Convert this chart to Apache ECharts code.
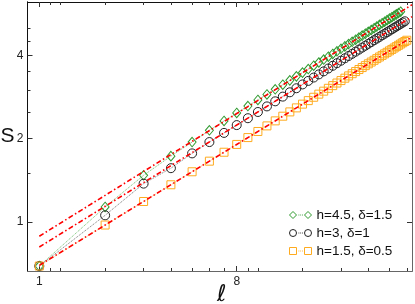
<!DOCTYPE html>
<html><head><meta charset="utf-8">
<script src="https://cdn.jsdelivr.net/npm/echarts@6/dist/echarts.min.js"></script>
<style>html,body{margin:0;padding:0;background:#fff}#c{width:415px;height:304px}</style>
</head><body><div id="c"></div>
<script>
// subsystem sizes
const ell = [1,2,3,4,5,6,7,8,9,10,11,12,13,14,15,16,17,18,19,20,21,22,23,24,25,26,27,28,29,30,31,32,33,34,35,36,37,38,39,40,41,42,43,44,45,46,47,48];
// h=4.5, delta=1.5
const sGreen = [0.693,1.133,1.475,1.730,1.945,2.145,2.318,2.478,2.625,2.762,2.892,3.016,3.136,3.250,3.360,3.467,3.571,3.672,3.771,3.866,3.959,4.051,4.140,4.228,4.313,4.397,4.479,4.560,4.639,4.717,4.794,4.869,4.943,5.016,5.088,5.159,5.229,5.298,5.366,5.433,5.500,5.565,5.630,5.693,5.756];
// h=3, delta=1
const sBlack = [0.693,1.057,1.376,1.565,1.770,1.945,2.099,2.240,2.372,2.498,2.617,2.730,2.839,2.943,3.044,3.142,3.236,3.327,3.416,3.503,3.587,3.670,3.750,3.829,3.906,3.981,4.055,4.128,4.199,4.270,4.338,4.406,4.473,4.539,4.603,4.667,4.730,4.792,4.853,4.913,4.973,5.032,5.090,5.147,5.204,5.260,5.315];
// h=1.5, delta=0.5
const sOrange = [0.693,0.975,1.186,1.363,1.519,1.659,1.787,1.907,2.019,2.124,2.225,2.320,2.412,2.500,2.585,2.667,2.746,2.824,2.898,2.971,3.042,3.111,3.179,3.245,3.310,3.373,3.436,3.497,3.557,3.616,3.674,3.730,3.786,3.841,3.895,3.949,4.001,4.053,4.105,4.155,4.205,4.255,4.303,4.352,4.399,4.446,4.492,4.539];
// fitted power laws (dash-dot), endpoints
const fitEll = [1, 50.7];
const fitGreen = [0.888, 6.10];
const fitBlack = [0.812, 5.52];
const fitOrange = [0.697, 4.66];
// ticks
const xMajorTicks = [1, 8];
const xMinorTicks = [1.125, 1.25, 2, 3, 4, 5, 6, 7, 9, 10, 16, 24, 32, 40, 48];
const yMajorTicks = [1, 2, 4];
const yMinorTicks = [1.5, 2.5, 3, 3.5, 4.5, 5];
const legendNames = ['h=4.5, δ=1.5', 'h=3, δ=1', 'h=1.5, δ=0.5'];

const X_MIN = 0.883, X_MAX = 50.7, Y_MIN = 0.665, Y_MAX = 6.24;
const FONT = 'Liberation Sans, Arial, Helvetica, sans-serif';

function xAx(pos, ticks, len, labels, lineColor, extra) {
  return Object.assign({
    type: 'log', logBase: 8, min: X_MIN, max: X_MAX, position: pos,
    axisLine: { show: true, lineStyle: { color: lineColor, width: 1 } },
    axisTick: { show: true, inside: true, length: len, customValues: ticks, lineStyle: { color: '#333', width: 1 } },
    axisLabel: labels ? { show: true, customValues: labels, color: '#222', fontSize: 12, fontFamily: FONT, margin: 5 } : { show: false },
    splitLine: { show: false }, minorTick: { show: false }
  }, extra || {});
}
function yAx(pos, ticks, len, labels, lineColor, extra) {
  return Object.assign({
    type: 'log', logBase: 2, min: Y_MIN, max: Y_MAX, position: pos,
    axisLine: { show: true, lineStyle: { color: lineColor, width: 1 } },
    axisTick: { show: true, inside: true, length: len, customValues: ticks, lineStyle: { color: '#333', width: 1 } },
    axisLabel: labels ? { show: true, customValues: labels, color: '#222', fontSize: 12, fontFamily: FONT, margin: 4 } : { show: false },
    splitLine: { show: false }, minorTick: { show: false }
  }, extra || {});
}

const pair = (xs, ys) => ys.map((y, i) => [xs[i], y]);

const iconDiamond = 'path://M0 3.5L3.5 0L7 3.5L3.5 7Z M15 3.5L18.5 0L22 3.5L18.5 7Z M9 3.5L9.8 3.5 M10.8 3.5L11.6 3.5 M12.6 3.5L13.4 3.5';
const iconCircle = 'path://M0 3.5A3.5 3.5 0 1 0 7 3.5A3.5 3.5 0 1 0 0 3.5Z M15 3.5A3.5 3.5 0 1 0 22 3.5A3.5 3.5 0 1 0 15 3.5Z M9 3.5L9.8 3.5 M10.8 3.5L11.6 3.5 M12.6 3.5L13.4 3.5';
const iconSquare = 'path://M0 0L7 0L7 7L0 7Z M15 0L22 0L22 7L15 7Z M9 3.5L9.8 3.5 M10.8 3.5L11.6 3.5 M12.6 3.5L13.4 3.5';

const GREEN = '#2f9a2f', BLACK = '#222222', ORANGE = '#ffab1f', RED = '#ff0000';

const fitStyle = { color: RED, width: 1.6, type: [5, 2.5, 1.5, 2.5] };

const option = {
  animation: false,
  backgroundColor: '#fff',
  grid: { left: 27.5, right: 3, top: 2, bottom: 33, containLabel: false, outerBoundsMode: 'none' },
  xAxis: [
    xAx('bottom', xMajorTicks, 5, xMajorTicks, '#666', {
      name: 'ℓ', nameLocation: 'middle', nameGap: 13, nameMoveOverlap: false,
      nameTextStyle: { fontSize: 23, color: '#111', fontFamily: 'DejaVu Sans, sans-serif', padding: [0, 0, 0, 4] }
    }),
    xAx('bottom', xMinorTicks, 3, null, '#666'),
    xAx('top', xMajorTicks, 5, null, '#111'),
    xAx('top', xMinorTicks, 3, null, '#111')
  ],
  yAxis: [
    yAx('left', yMajorTicks, 5, yMajorTicks, '#111', {
      name: 'S', nameLocation: 'middle', nameGap: 13, nameRotate: 0, nameMoveOverlap: false,
      nameTextStyle: { fontSize: 21, color: '#111', fontFamily: FONT }
    }),
    yAx('left', yMinorTicks, 3, null, '#111'),
    yAx('right', yMajorTicks, 5, null, '#666'),
    yAx('right', yMinorTicks, 3, null, '#666')
  ],
  legend: {
    orient: 'vertical', left: 284, top: 203,
    itemWidth: 22, itemHeight: 7, itemGap: 4,
    textStyle: { fontSize: 13.5, color: '#111', fontFamily: FONT, lineHeight: 14 },
    data: [
      { name: legendNames[0], icon: iconDiamond, itemStyle: { color: 'rgba(0,0,0,0)', borderColor: GREEN, borderWidth: 1 } },
      { name: legendNames[1], icon: iconCircle, itemStyle: { color: 'rgba(0,0,0,0)', borderColor: BLACK, borderWidth: 1 } },
      { name: legendNames[2], icon: iconSquare, itemStyle: { color: 'rgba(0,0,0,0)', borderColor: ORANGE, borderWidth: 1 } }
    ]
  },
  series: [
    { name: legendNames[0], type: 'line', data: pair(ell, sGreen), symbol: 'diamond', symbolSize: [8, 9.5],
      itemStyle: { color: 'rgba(0,0,0,0)', borderColor: GREEN, borderWidth: 1 },
      lineStyle: { color: '#6fbf6f', width: 1, type: 'dotted' }, z: 2, clip: true },
    { name: legendNames[1], type: 'line', data: pair(ell, sBlack), symbol: 'circle', symbolSize: 9,
      itemStyle: { color: 'rgba(0,0,0,0)', borderColor: BLACK, borderWidth: 1 },
      lineStyle: { color: '#777', width: 1, type: 'dotted' }, z: 2, clip: true },
    { name: legendNames[2], type: 'line', data: pair(ell, sOrange), symbol: 'rect', symbolSize: 8,
      itemStyle: { color: 'rgba(0,0,0,0)', borderColor: ORANGE, borderWidth: 1 },
      lineStyle: { color: '#ffc870', width: 1, type: 'dotted' }, z: 2, clip: true },
    { name: 'fitG', type: 'line', data: pair(fitEll, fitGreen), symbol: 'none', lineStyle: fitStyle, z: 5, clip: true, silent: true },
    { name: 'fitB', type: 'line', data: pair(fitEll, fitBlack), symbol: 'none', lineStyle: fitStyle, z: 5, clip: true, silent: true },
    { name: 'fitO', type: 'line', data: pair(fitEll, fitOrange), symbol: 'none', lineStyle: fitStyle, z: 5, clip: true, silent: true }
  ]
};
const chart = echarts.init(document.getElementById('c'), null, { renderer: 'canvas' });
chart.setOption(option);
</script>
</body></html>
